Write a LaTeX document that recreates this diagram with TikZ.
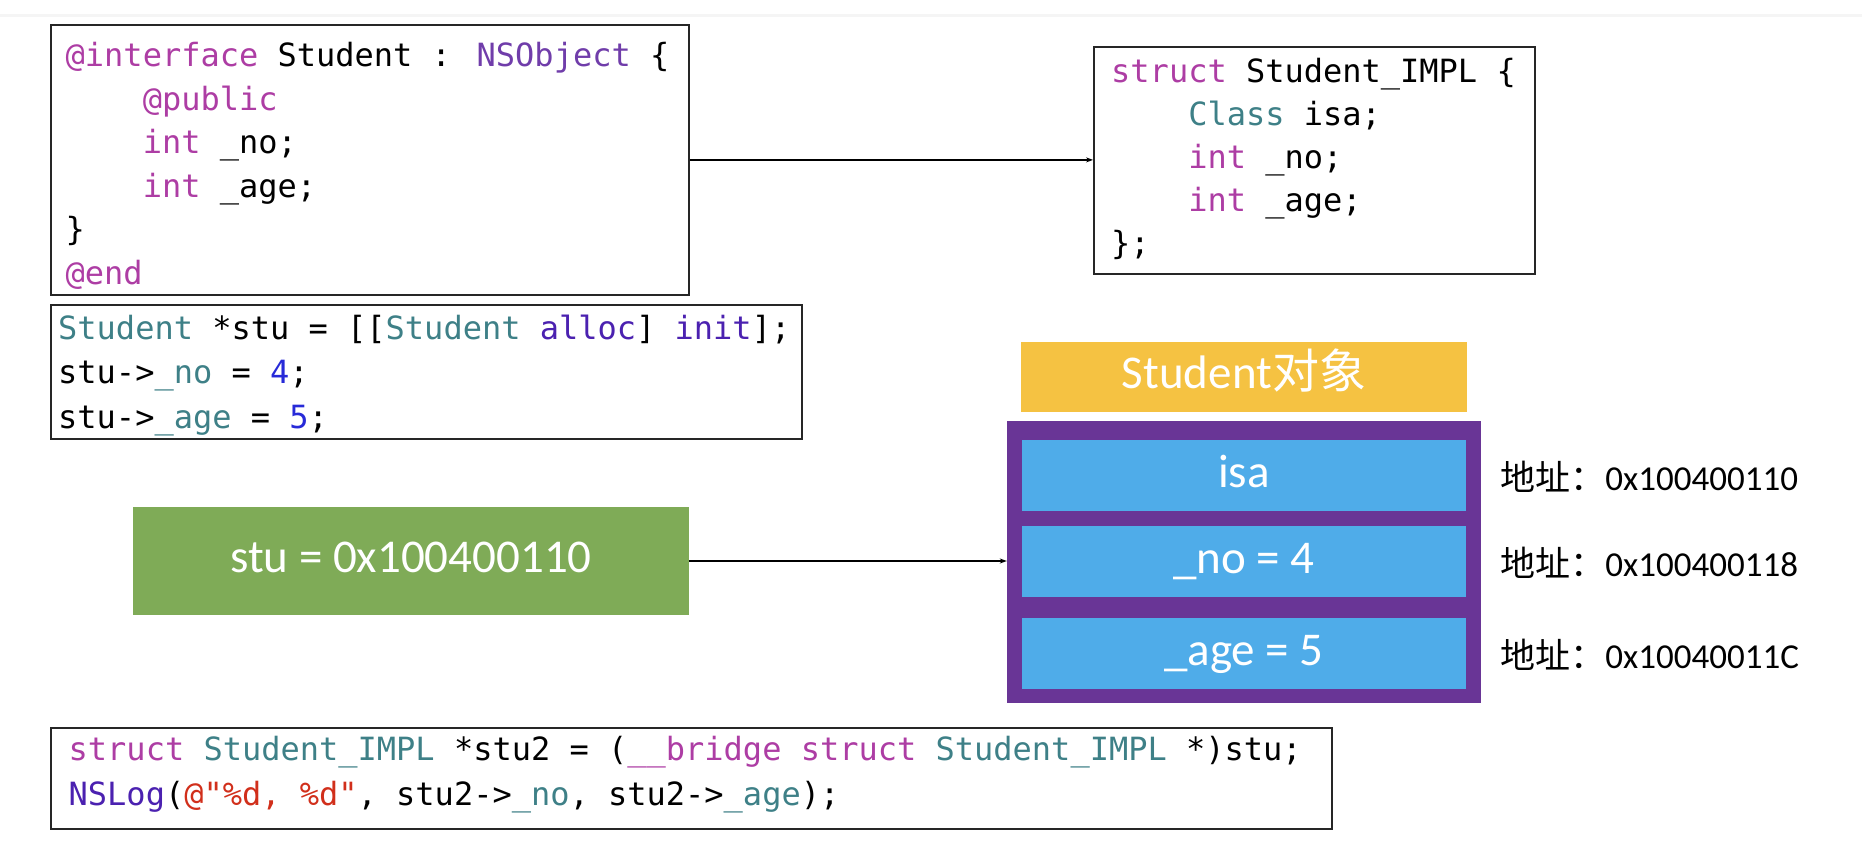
\documentclass[tikz,border=0pt]{standalone}
\usepackage{fontspec}
\setsansfont{Carlito}
\newfontfamily\codefont{DejaVu Sans Mono}
\newfontfamily\cjk{Noto Sans CJK SC}
\usepackage{xcolor}
\usetikzlibrary{positioning,calc,arrows.meta}

\definecolor{kwcol}{HTML}{AD3DA4}
\definecolor{typcol}{HTML}{3E8087}
\definecolor{clscol}{HTML}{703DAA}
\definecolor{fncol}{HTML}{4B21B0}
\definecolor{numcol}{HTML}{272AD8}
\definecolor{strcol}{HTML}{D12F1B}
\definecolor{objyellow}{HTML}{F5C242}
\definecolor{objpurple}{HTML}{693596}
\definecolor{ivarblue}{HTML}{4FACE9}
\definecolor{ptrgreen}{HTML}{7FAB57}

\newcommand{\kw}[1]{\textcolor{kwcol}{#1}}
\newcommand{\typ}[1]{\textcolor{typcol}{#1}}
\newcommand{\cls}[1]{\textcolor{clscol}{#1}}
\newcommand{\fn}[1]{\textcolor{fncol}{#1}}
\newcommand{\num}[1]{\textcolor{numcol}{#1}}
\newcommand{\str}[1]{\textcolor{strcol}{#1}}
\newcommand{\ind}{\phantom{0000}}

\begin{document}
\begin{tikzpicture}[x=1pt,y=-1pt,
    codebox/.style={draw=black!85, line width=1.8pt, inner sep=0pt, anchor=north west},
    code/.style={inner sep=0pt, anchor=base west, font=\codefont\fontsize{32}{40}\selectfont},
    cell/.style={inner sep=0pt, text=white, font=\sffamily\fontsize{47}{56}\selectfont,
                 text height=30pt, text depth=6.3pt},
    addr/.style={inner sep=0pt, font=\sffamily\fontsize{35}{42}\selectfont,
                 text height=29pt, text depth=0pt},
    arr/.style={line width=1.3pt, -{Stealth[length=7pt,width=5pt]}}]
    \useasboundingbox (0,0) rectangle (1862,850);
    \fill[black!4] (0,14) rectangle (1862,17.5);

    % code boxes
    \node[codebox, minimum width=638pt, minimum height=270pt] (iface) at (50,24) {};
    \node[codebox, minimum width=751pt, minimum height=134pt] (alloc) at (50,304) {};
    \node[codebox, minimum width=441pt, minimum height=227pt] (impl) at (1093,46) {};
    \node[codebox, minimum width=1281pt, minimum height=101pt] (cast) at (50,727) {};

    \foreach \row [count=\i from 0] in {
        {\kw{@interface} Student : \cls{NSObject} \{},
        {\ind\kw{@public}},
        {\ind\kw{int} \_no;},
        {\ind\kw{int} \_age;},
        {\}},
        {\kw{@end}}}
        \node[code] (iface-\i) at (65.5,66.5+43.6*\i) {\row};

    \foreach \row [count=\i from 0] in {
        {\typ{Student} *stu = [[\typ{Student} \fn{alloc}] \fn{init}];},
        {stu->\typ{\_no} = \num{4};},
        {stu->\typ{\_age} = \num{5};}}
        \node[code] (alloc-\i) at (58,339.5+44.3*\i) {\row};

    \foreach \row [count=\i from 0] in {
        {\kw{struct} Student\_IMPL \{},
        {\ind\typ{Class} isa;},
        {\ind\kw{int} \_no;},
        {\ind\kw{int} \_age;},
        {\};}}
        \node[code] (impl-\i) at (1111,82.5+43*\i) {\row};

    \foreach \row [count=\i from 0] in {
        {\kw{struct} \typ{Student\_IMPL} *stu2 = (\kw{\_\_bridge} \kw{struct} \typ{Student\_IMPL} *)stu;},
        {\fn{NSLog}(\str{@"\%d, \%d"}, stu2->\typ{\_no}, stu2->\typ{\_age});}}
        \node[code] (cast-\i) at (68.5,760.5+45*\i) {\row};

    % the object in memory
    \node[fill=objpurple, minimum width=474pt, minimum height=282pt, inner sep=0pt] (obj) at (1244,562) {};
    \node[cell, fill=ivarblue, minimum width=444pt, minimum height=71pt] (isa) at (1244,475.5) {isa};
    \node[cell, fill=ivarblue, minimum width=444pt, minimum height=71pt] (no) at (1244,561.5) {\_no = 4};
    \node[cell, fill=ivarblue, minimum width=444pt, minimum height=71pt] (age) at (1244,653.5) {\_age = 5};
    \node[cell, fill=objyellow, minimum width=446pt, minimum height=70pt] (title) at (1244,377) {Student{\cjk 对象}};
    \node[cell, fill=ptrgreen, minimum width=556pt, minimum height=108pt] (stu) at (411,561) {stu = 0x100400110};

    \node[addr, right=34pt of isa] (addr-isa) {{\cjk 地址：}0x100400110};
    \node[addr, right=34pt of no] (addr-no) {{\cjk 地址：}0x100400118};
    \node[addr, right=34pt of age] (addr-age) {{\cjk 地址：}0x10040011C};

    \draw[arr] (iface.east) -- (iface.east -| impl.west);
    \draw[arr] (stu.east) -- (stu.east -| obj.west);
\end{tikzpicture}
\end{document}
